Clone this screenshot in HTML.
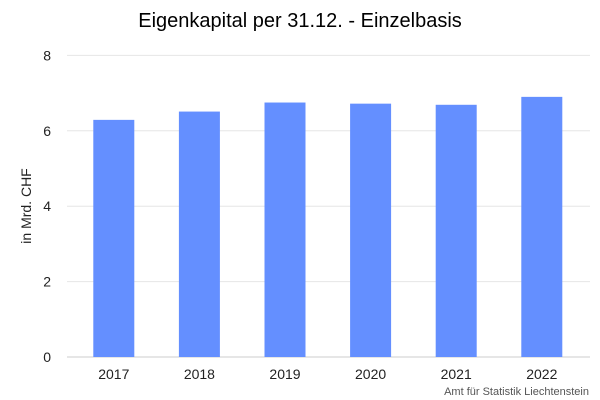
<!DOCTYPE html>
<html><head><meta charset="utf-8"><style>
body{margin:0;background:#fff;font-family:"Liberation Sans",sans-serif}
svg{display:block}
</style></head><body>
<svg id="chart" width="600" height="400">
<text x="300" y="27" text-anchor="middle" font-size="20" fill="#000">Eigenkapital per 31.12. - Einzelbasis</text>
<text transform="translate(31,206) rotate(-90)" text-anchor="middle" font-size="14" fill="#222">in Mrd. CHF</text>
<g id="grid"></g><g id="bars"></g><g id="xlabels"></g><g id="ylabels"></g>
<text x="589" y="395" text-anchor="end" font-size="11" fill="#555">Amt für Statistik Liechtenstein</text>
</svg>
<script>
const categories=["2017","2018","2019","2020","2021","2022"];
const values=[6.29,6.51,6.75,6.72,6.69,6.90];
const yTicks=[0,2,4,6,8];
const ns="http://www.w3.org/2000/svg";
const y0=357,pxPer=37.7,x0=71,band=85.6,bw=41,gx1=67,gx2=590;
function yS(v){return y0-v*pxPer;}
function xS(i){return x0+band*(i+0.5);}
const grid=document.getElementById('grid'),bars=document.getElementById('bars'),xl=document.getElementById('xlabels'),yl=document.getElementById('ylabels');
yTicks.forEach(t=>{
 const l=document.createElementNS(ns,'line');
 
 
 l.setAttribute('x1',gx1);l.setAttribute('x2',gx2);l.setAttribute('y1',yS(t));l.setAttribute('y2',yS(t));
 l.setAttribute('stroke',t===0?'#ccc':'#e6e6e6');l.setAttribute('stroke-width','1');
 grid.appendChild(l);
 const tx=document.createElementNS(ns,'text');
 
 
 tx.setAttribute('x',51);tx.setAttribute('y',yS(t)+5);tx.setAttribute('text-anchor','end');tx.setAttribute('font-size','14');tx.setAttribute('fill','#222');
 tx.textContent=t;yl.appendChild(tx);
});
categories.forEach((c,i)=>{
 const r=document.createElementNS(ns,'rect');
 
 
 r.setAttribute('x',xS(i)-bw/2);r.setAttribute('width',bw);r.setAttribute('y',yS(values[i]));r.setAttribute('height',y0-yS(values[i]));
 r.setAttribute('fill','#648fff');bars.appendChild(r);
 const tx=document.createElementNS(ns,'text');
 
 
 tx.setAttribute('x',xS(i));tx.setAttribute('y',379);tx.setAttribute('text-anchor','middle');tx.setAttribute('font-size','14');tx.setAttribute('fill','#222');
 tx.textContent=c;xl.appendChild(tx);
});
</script>
</body></html>
